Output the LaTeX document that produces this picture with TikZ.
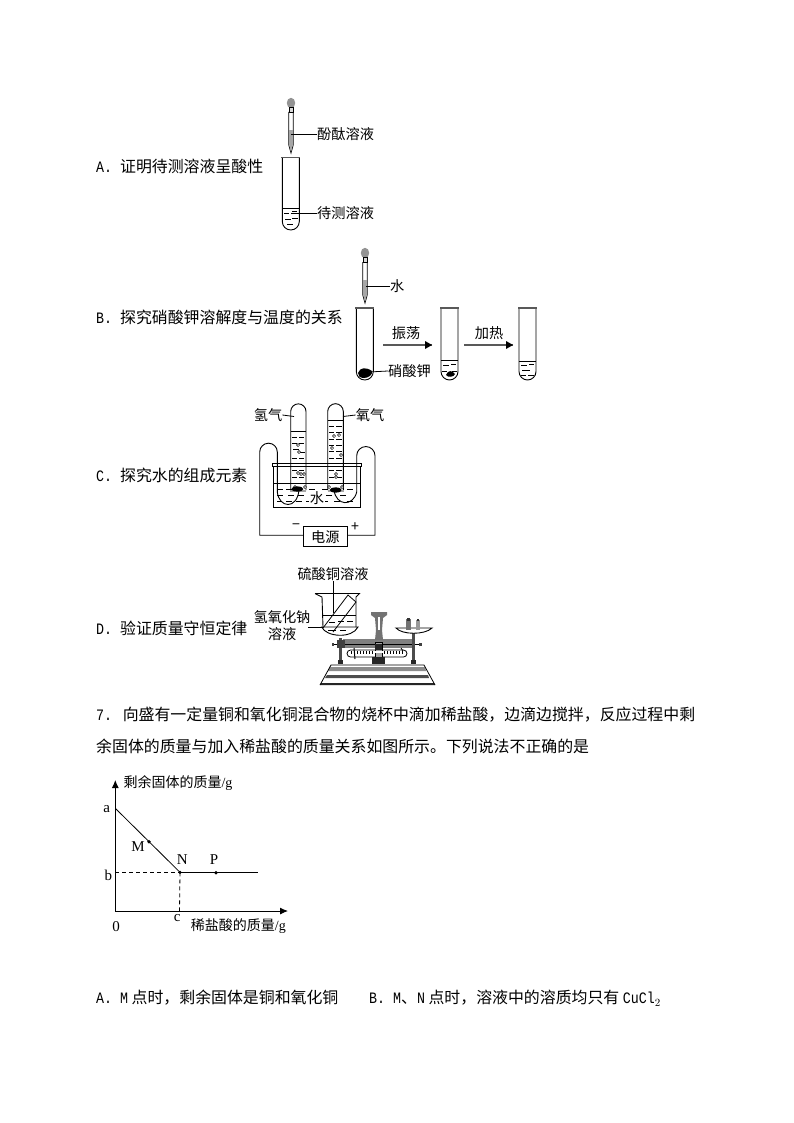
\documentclass[tikz,border=0pt]{standalone}
\usepackage{fontspec}
\setmainfont{Noto Sans CJK SC}
\newfontfamily\latmono[FakeStretch=0.836]{Liberation Mono}
\newfontfamily\latserif{Liberation Serif}
\usetikzlibrary{arrows.meta}
\newcommand{\fwc}{\symbol{"FF0C}}
\newcommand{\testtube}[5]{% left right lidY bottomY colour
  \pgfmathsetmacro{\rr}{(#2-#1)/2}
  \draw[tubeline] (#1,#3) -- (#1,#4-\rr) arc (180:0:\rr) -- (#2,#3);
  \draw[lidline] (#1-1,#3) -- (#2+1,#3);
}
\newcommand{\dashes}[1]{\foreach \xa/\xb/\yy in {#1} {\draw[waterline] (\xa,\yy) -- (\xb,\yy);}}
\newcommand{\bubbles}[1]{\foreach \xa/\yy in {#1} {\draw[line width=0.5pt,fill=white] (\xa,\yy) circle (1.6);}}
\newcommand{\dropper}[3]{% x, bulbY, tipY
  \fill[gray!85] (#1,#2) ellipse (4.2 and 5.2);
  \draw[line width=0.9pt,fill=gray!30] (#1-2,#2+4) rectangle (#1+2,#2+9);
  \draw[line width=0.8pt] (#1-2.2,#2+9) -- (#1-2.2,#3-8) -- (#1,#3) -- (#1+2.2,#3-8) -- (#1+2.2,#2+9);
  \fill[gray!70] (#1-1.8,#3-23) rectangle (#1+1.8,#3-8);
  \fill[gray!70] (#1-1.8,#3-8) -- (#1,#3-1) -- (#1+1.8,#3-8) -- cycle;
}
\tikzset{
  tubeline/.style={line width=0.9pt,black},
  lidline/.style={line width=1.5pt,gray!70!black},
  waterline/.style={line width=0.6pt,black},
  leader/.style={line width=0.8pt,black},
  body/.style={font=\fontsize{15.9}{18}\selectfont,anchor=west,inner sep=0pt},
  lab/.style={font=\fontsize{14.2}{16}\selectfont,inner sep=0pt},
  chartlab/.style={font=\fontsize{14}{15}\selectfont,inner sep=0pt},
  latlab/.style={font=\fontsize{15}{15}\selectfont\latserif,inner sep=0pt},
  flowarrow/.style={line width=1.2pt,gray!70!black},
  axis/.style={line width=0.9pt,-{Latex[length=8pt,width=7pt]}},
  dashline/.style={line width=0.8pt,dash pattern=on 4pt off 3pt},
  thickline/.style={line width=1pt},
  dot/.style={circle,fill=black,inner sep=0pt,minimum size=3.6pt},
}
\begin{document}
\begin{tikzpicture}[x=1pt,y=-1pt]
\useasboundingbox (0,0) rectangle (794,1123);
\fill[white] (0,0) rectangle (794,1123);

% ---- option texts
\node[body] (tA) at (96,166) {{\latmono A. }证明待测溶液呈酸性};
\node[body] (tB) at (96,317) {{\latmono B. }探究硝酸钾溶解度与温度的关系};
\node[body] (tC) at (96,475) {{\latmono C. }探究水的组成元素};
\node[body] (tD) at (96,628) {{\latmono D. }验证质量守恒定律};
\node[body] (q1) at (96,715) {{\latmono 7. }向盛有一定量铜和氧化铜混合物的烧杯中滴加稀盐酸\fwc 边滴边搅拌\fwc 反应过程中剩};
\node[body] (q2) at (96,746) {余固体的质量与加入稀盐酸的质量关系如图所示。下列说法不正确的是};
\node[body] (oA) at (96,998) {{\latmono A. M} 点时\fwc 剩余固体是铜和氧化铜};
\node[body] (oB) at (369,998) {{\latmono B. M}、{\latmono N} 点时\fwc 溶液中的溶质均只有 {\latmono CuCl$_{2}$}};

% ---- A
\dropper{291}{103}{153}
\testtube{282.3}{299.3}{157.5}{230}{}
\draw[waterline] (282.3,208) -- (299.3,208);
\dashes{284/289/213, 292/297/211, 285/291/219, 292/298/218, 287/293/224}
\node[lab,anchor=west] (lA1) at (317,134) {酚酞溶液};
\node[lab,anchor=west] (lA2) at (317,213) {待测溶液};
\coordinate (dA) at (291,134);
\coordinate (wA) at (291,213);
\draw[leader] (dA) -- (lA1.west);
\draw[leader] (wA) -- (lA2.west);

% ---- B
\dropper{365}{253}{303}
\testtube{356.3}{373.3}{308}{380}{}
\fill[black] (358,373) .. controls (360,367) and (366,367) .. (372,371) .. controls (373,375) and (368,378) .. (364,378) .. controls (360,378) and (358,376) .. (358,373) -- cycle;
\node[lab,anchor=west] (lB1) at (390,286) {水};
\node[lab,anchor=west] (lB2) at (388,371) {硝酸钾};
\coordinate (dB) at (366,286);
\coordinate (sB) at (369,372);
\draw[leader] (dB) -- (lB1.west);
\draw[leader] (sB) -- (lB2.west);
\node[lab] (lB3) at (406,333) {振荡};
\coordinate (a1s) at (383,345);
\coordinate (a1e) at (432,345);
\draw[flowarrow] (a1s) -- (a1e);
\fill (432,345) -- (425,341) -- (425,349) -- cycle;
\testtube{441}{458}{308}{380}{}
\draw[waterline] (441,360.5) -- (458,360.5);
\dashes{443/449/365, 451/456/364, 442/447/371, 452/457/371}
\fill[black] (446,375) .. controls (448,370) and (452,370) .. (455,374) .. controls (454,377) and (448,378) .. (446,375) -- cycle;
\node[lab] (lB4) at (489,333) {加热};
\coordinate (a2s) at (464,345);
\coordinate (a2e) at (513,345);
\draw[flowarrow] (a2s) -- (a2e);
\fill (513,345) -- (506,341) -- (506,349) -- cycle;
\testtube{519}{536}{308}{380}{}
\draw[waterline] (519,361) -- (536,361);
\dashes{521/527/365, 529/534/364, 522/530/370, 521/526/375, 528/534/375}

% ---- C
% trough
\draw[line width=0.9pt] (273.7,466) -- (273.7,507.3) -- (360,507.3) -- (360,466);
\draw[line width=0.9pt,fill=white] (272.3,463.5) rectangle (361.7,466.7);
\draw[waterline] (273.7,483.5) -- (360,483.5);
\dashes{277/283/489, 286/292/489, 309/315/489, 322/328/489, 347/353/489, 277/283/495, 288/294/495, 298/304/495, 326/332/495, 340/346/495, 277/282/501, 286/292/501, 296/302/501, 306/311/501, 322/328/501, 334/340/501, 347/353/501}
% collection tubes
\draw[line width=0.9pt] (290.7,490) -- (290.7,411.5) arc (180:360:7.65) -- (306,490);
\draw[line width=0.9pt] (327.7,490) -- (327.7,411.5) arc (180:360:7.8) -- (343.3,490);
\draw[waterline] (290.7,431.7) -- (306,431.7);
\draw[waterline] (327.7,420.7) -- (343.3,420.7);
\dashes{292/297/437, 299/304/437, 292/297/443, 299/304/443, 293/299/449, 300/305/452, 292/297/458, 299/304/458, 292/297/463, 299/304/463, 292/297/470, 299/304/470, 292/297/477, 299/304/477, 292/297/483, 299/304/483,
        329/334/426, 336/342/426, 329/334/432, 336/342/432, 329/334/439, 336/342/439, 329/334/445, 336/342/445, 329/334/451, 336/342/451, 329/334/458, 336/342/458, 329/334/463, 336/342/463, 329/334/470, 336/342/470, 329/334/477, 336/342/477, 329/334/483, 336/342/483}
\bubbles{298/445, 299/452, 298/473, 301/474, 304/474, 295/487, 305/487, 334/436, 339/435, 332/448, 341/455, 336/474, 336/477, 329/487, 342/487}
% electrodes
\fill[gray!70] (290,490) rectangle (306,492);
\fill[gray!70] (328,490) rectangle (344,492);
\fill[black] (297.3,489) ellipse (6 and 2.6);
\fill[black] (335.7,490) ellipse (6 and 2.6);
% power box and wires
\node[draw,line width=0.9pt,minimum width=44pt,minimum height=20pt,inner sep=0pt,font=\fontsize{14.2}{16}\selectfont] (pwr) at (325.3,536.7) {电源};
\coordinate (eL) at (299,490);
\coordinate (eR) at (334,490);
\draw[line width=0.9pt] (pwr.west) ++(0,-1.5) -- (259.7,535.2) -- (259.7,452) arc (180:360:8.8) -- (277.3,492) .. controls (279,508) and (297,510) .. (eL);
\draw[line width=0.9pt] (pwr.east) ++(0,-1.5) -- (375,535.2) -- (375,455.7) arc (360:180:9.15) -- (356.7,492) .. controls (353,507) and (336,506) .. (eR);
\node[lab] (minus) at (296,527) {−};
\node[lab] (plus) at (355,527) {+};
\node[lab] (lC1) at (268,415) {氢气};
\node[lab] (lC2) at (370,415) {氧气};
\coordinate (tC1) at (294,416.5);
\coordinate (tC2) at (343,416.5);
\draw[leader] (lC1.east) -- (tC1);
\draw[leader] (tC2) -- (lC2.west);
\node[lab,fill=white,inner sep=1pt] (lC3) at (317,498) {水};

% ---- D balance
\fill[white] (320,685) -- (331,665) -- (424,665) -- (435,685) -- cycle;
\fill[black!45] (330,667) -- (425,667) -- (426,671) -- (328,671) -- cycle;
\fill[black!70] (327,675) -- (428,675) -- (429,678) -- (325,678) -- cycle;
\fill[black!85] (321,683) -- (434,683) -- (435,685) -- (320,685) -- cycle;
\draw[line width=0.8pt] (320,685) -- (331,665) -- (424,665) -- (435,685);
% beam
\fill[black!50] (343,639) rectangle (413,648);
\draw[line width=1pt] (333,644.5) -- (420,644.5);
\fill[black!75] (331.5,643) rectangle (334,646);
\fill[black!75] (419,643) rectangle (421.5,646);
% scale
\draw[line width=0.8pt,fill=white,rounded corners=3.5pt] (347,650) rectangle (407,657);
\foreach \i in {351,354,...,403} {\draw[line width=0.4pt] (\i,650.5) -- (\i,653.5);}
\draw[line width=1pt] (354,648) -- (355,659);
\draw[line width=0.8pt] (401,648) -- (403,651);
% feet & columns
\fill[black!70] (339,638) rectangle (342,663);
\fill[black!70] (412,633) rectangle (415,663);
\fill[black!85] (338,660) rectangle (343,664);
\fill[black!85] (411,660) rectangle (416,664);
\fill[black!75] (336.5,640) rectangle (344.5,648);
\draw[line width=0.7pt,fill=black!35] (375,663) rectangle (382,642);
\fill[black!85] (375,644) rectangle (382,650);
\fill[black!85] (372,657) rectangle (385,664);
\fill[white] (373,651) rectangle (384,653);
% pointer
\fill[black!55] (371,612) -- (387,612) -- (387,615) -- (383,618) -- (382,630) -- (383,640) -- (375,640) -- (376,630) -- (375,618) -- (371,615) -- cycle;
\fill[white] (377.5,617) rectangle (380,630);
% right pan
\draw[line width=0.9pt,fill=white] (396,628) .. controls (402,635) and (425,635) .. (432,628) -- cycle;
\fill[black!55] (406,619) rectangle (411,630);
\fill[black!40] (416,620) rectangle (420,630);
\fill[black!80] (407,618) rectangle (410,621);
\fill[black!80] (417,619) rectangle (419,621);
% left pan
\draw[line width=0.9pt,fill=white] (321.7,627) .. controls (326,637) and (352,639) .. (358,627) -- cycle;
% beaker
\draw[line width=0.9pt] (315,593.5) -- (322,597) -- (323,627);
\draw[line width=0.9pt] (315,593.5) -- (359.5,593.5) -- (356,597) -- (356,627);
\draw[waterline] (323,615) -- (356,615);
\dashes{329/335/622, 338/344/621, 347/353/621, 328/336/630, 340/346/630}
\draw[line width=0.8pt] (323,628) -- (348,595) -- (356,602);
\draw[line width=0.8pt] (333,632) -- (356,602);
\node[lab] (lD1) at (333,574) {硫酸铜溶液};
\node[lab] (lD2) at (282,617) {氢氧化钠};
\node[lab] (lD3) at (282,634) {溶液};
\coordinate (bD) at (333,613);
\coordinate (nD) at (323,627);
\coordinate (nDs) at (308,627);
\draw[leader] (lD1.south -| bD) -- (bD);
\draw[leader] (nDs) -- (nD);

% ---- chart
\coordinate (O) at (115.3,911);
\coordinate (yT) at (115.3,780);
\coordinate (xR) at (288,911);
\draw[axis] (O) -- (yT);
\draw[axis] (O) -- (xR);
\coordinate (A) at (115.3,808.3);
\coordinate (Bb) at (115.3,872.3);
\coordinate (Cc) at (179.5,911);
\coordinate (End) at (257.7,872.3);
\node[dot] (nM) at (149,841.7) {};
\node[dot] (nN) at (180,872.3) {};
\node[dot] (nP) at (216,872.7) {};
\draw[line width=0.8pt] (A) -- (nN.center);
\draw[thickline] (nN.center) -- (End);
\draw[dashline] (Bb) -- (nN.center);
\draw[dashline] (nN.center) -- (Cc);
\node[latlab] (la) at (106.7,809.3) {a};
\node[latlab] (lb) at (108.3,875) {b};
\node[latlab] (lc) at (177.3,918) {c};
\node[latlab] (l0) at (116,926.5) {0};
\node[latlab] (lM) at (138,847) {M};
\node[latlab] (lN) at (182.3,860) {N};
\node[latlab] (lP) at (214,860) {P};
\node[chartlab,anchor=west] (ly) at (123.3,783) {剩余固体的质量{\latserif /g}};
\node[chartlab,anchor=west] (lx) at (190.7,926.5) {稀盐酸的质量{\latserif /g}};
\end{tikzpicture}
\end{document}
